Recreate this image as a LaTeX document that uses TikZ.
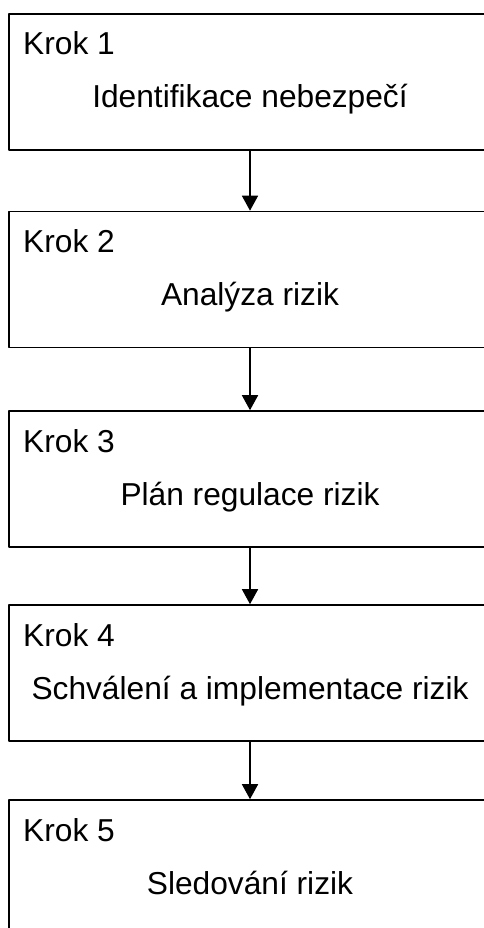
\documentclass[tikz,border=0pt]{standalone}
\usepackage{fontspec}
\setmainfont{Liberation Sans}
\usetikzlibrary{arrows.meta}

\begin{document}
\begin{tikzpicture}[line cap=round,line join=round,x=1pt,y=-1pt,
	box/.style={draw,line width=1.6pt,minimum width=482pt,minimum height=136pt,inner sep=0pt},
	steplabel/.style={anchor=base west,inner sep=0pt,font=\fontsize{31.7}{36}\selectfont},
	boxtext/.style={anchor=base,inner sep=0pt,font=\fontsize{31.7}{36}\selectfont},
	>={Triangle[width=16pt,length=15pt]}]
	\clip (0,0) rectangle (484,928);
	\useasboundingbox (0,0) rectangle (484,928);
	% kroky
	\node[box] (k1) at (250,82) {};
	\node[box] (k2) at (250,279.5) {};
	\node[box] (k3) at (250,479) {};
	\node[box] (k4) at (250,673) {};
	\node[box] (k5) at (250,868) {};
	\node[steplabel] (l1) at (23,55) {Krok 1};
	\node[steplabel] (l2) at (23,252.5) {Krok 2};
	\node[steplabel] (l3) at (23,452) {Krok 3};
	\node[steplabel] (l4) at (23,646) {Krok 4};
	\node[steplabel] (l5) at (23,841) {Krok 5};
	\node[boxtext] (t1) at (250,108) {Identifikace nebezpečí};
	\node[boxtext] (t2) at (250,305.5) {Analýza rizik};
	\node[boxtext] (t3) at (250,505) {Plán regulace rizik};
	\node[boxtext] (t4) at (250,699) {Schválení a implementace rizik};
	\node[boxtext] (t5) at (250,894) {Sledování rizik};
	% sipky
	\draw[->,line width=1.6pt] (k1.south) -- (k2.north);
	\draw[->,line width=1.6pt] (k2.south) -- (k3.north);
	\draw[->,line width=1.6pt] (k3.south) -- (k4.north);
	\draw[->,line width=1.6pt] (k4.south) -- (k5.north);
\end{tikzpicture}
\end{document}
